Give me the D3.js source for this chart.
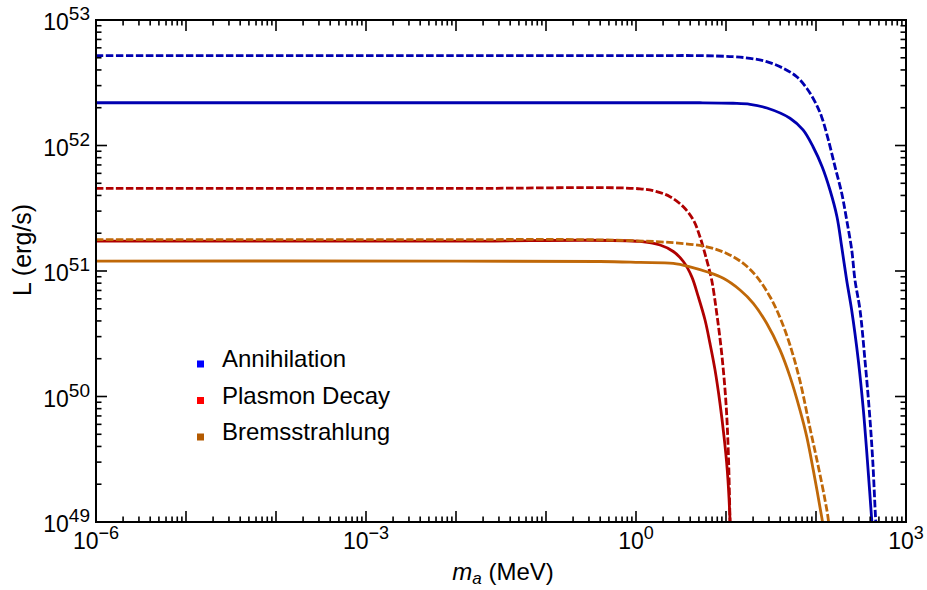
<!DOCTYPE html>
<html><head><meta charset="utf-8">
<script src="https://cdn.jsdelivr.net/npm/d3@7"></script>
<style>body{margin:0;background:#fff}text{font-family:Arial,"Liberation Sans",sans-serif}</style>
</head><body><svg id="c" width="927" height="590"></svg>
<script>
// ---- data ----
const annM   = [1e-6, 1, 5.14, 11.97, 18.5, 28.5, 51.4, 71.8, 92.7, 117, 143, 171, 193, 219, 249, 295, 336, 372, 416, 457];
const annL   = [2.19e52, 2.19e52, 2.19e52, 2.17e52, 2.13e52, 1.99e52, 1.65e52, 1.33e52, 9.77e51, 6.78e51, 4.42e51, 2.71e51, 1.56e51, 8.47e50, 4.89e50, 1.95e50, 7.80e49, 3.12e49, 1.04e49, 4e48];
const annDM  = [1e-6, 1, 5.14, 11.97, 18.5, 28.3, 43.4, 61.1, 78.9, 97.5, 115.6, 137.1, 162.6, 193.2, 219.3, 249.5, 271.0, 308.3, 349.9, 390.8, 426.6, 460.3, 501];
const annDL  = [5.20e52, 5.20e52, 5.20e52, 5.10e52, 4.95e52, 4.66e52, 4.12e52, 3.53e52, 2.86e52, 2.23e52, 1.69e52, 1.11e52, 6.78e51, 4.16e51, 2.55e51, 1.47e51, 8.47e50, 4.89e50, 1.95e50, 7.80e49, 3.12e49, 1.04e49, 4e48];
const plaM   = [1e-6, 1e-2, 1.107, 1.849, 2.594, 3.357, 4.159, 4.920, 5.848, 6.637, 7.551, 8.570, 9.506, 10.33, 11.07, 11.37];
const plaL   = [1.73e51, 1.73e51, 1.72e51, 1.61e51, 1.43e51, 1.19e51, 9.02e50, 6.24e50, 4.07e50, 2.65e50, 1.63e50, 8.83e49, 4.79e49, 2.59e49, 1.04e49, 4e48];
const plaDM  = [1e-6, 1e-2, 1.107, 1.698, 2.388, 3.357, 4.335, 5.140, 6.109, 6.934, 7.889, 8.954, 10.0, 10.62, 11.07, 11.35];
const plaDL  = [4.55e51, 4.55e51, 4.52e51, 4.29e51, 3.91e51, 3.25e51, 2.55e51, 1.87e51, 1.22e51, 8.47e50, 4.60e50, 2.21e50, 8.83e49, 3.52e49, 1.04e49, 4e48];
const breM   = [1e-6, 1e-2, 0.398, 1.107, 2.594, 3.981, 6.109, 9.333, 14.32, 20.09, 28.31, 39.81, 51.40, 66.37, 78.89, 93.33, 115.6, 125.9];
const breL   = [1.20e51, 1.20e51, 1.19e51, 1.17e51, 1.15e51, 1.08e51, 9.86e50, 8.75e50, 7.06e50, 5.53e50, 3.83e50, 2.35e50, 1.44e50, 7.80e49, 4.79e49, 2.59e49, 1.10e49, 7.6e48];
const breDM  = [1e-6, 1e-2, 0.398, 2.594, 6.109, 10.19, 15.56, 21.93, 30.83, 39.81, 51.40, 66.37, 85.70, 106.2, 125.9, 137.1, 151.4];
const breDL  = [1.78e51, 1.78e51, 1.77e51, 1.68e51, 1.56e51, 1.38e51, 1.15e51, 9.02e50, 6.24e50, 4.26e50, 2.57e50, 1.33e50, 5.61e49, 2.76e49, 1.50e49, 1.04e49, 4e48];

const legendNames  = ["Annihilation", "Plasmon Decay", "Bremsstrahlung"];
const legendColors = ["#0000ff", "#ff0000", "#b35a00"];
const lineColors   = ["#0000b0", "#b00000", "#c06808"];
const xTickExps = [-6, -3, 0, 3];
const yTickExps = [49, 50, 51, 52, 53];

// ---- layout ----
const L = 96, R = 906, T = 20, B = 522;
const svg = d3.select("#c");
const x = d3.scaleLog().domain([1e-6, 1e3]).range([L, R]);
const y = d3.scaleLog().domain([1e49, 1e53]).range([B, T]);

svg.append("defs").append("clipPath").attr("id", "clip")
  .append("rect").attr("x", L).attr("y", T).attr("width", R - L).attr("height", B - T);

const series = [
  {m: annM, l: annL, c: 0, dash: false},
  {m: annDM, l: annDL, c: 0, dash: true},
  {m: plaDM, l: plaDL, c: 1, dash: true},
  {m: plaM, l: plaL, c: 1, dash: false},
  {m: breDM, l: breDL, c: 2, dash: true},
  {m: breM, l: breL, c: 2, dash: false},
];
const line = d3.line().x(d => x(d[0])).y(d => y(d[1])).curve(d3.curveCatmullRom.alpha(0.5));
const g = svg.append("g").attr("clip-path", "url(#clip)");
series.forEach(s => {
  g.append("path").datum(s.m.map((v, i) => [v, s.l[i]]))
    .attr("d", line).attr("fill", "none")
    .attr("stroke", lineColors[s.c]).attr("stroke-width", 2.8)
    .attr("stroke-dasharray", s.dash ? "7.5,2.5" : null);
});

// ---- frame & ticks ----
svg.append("rect").attr("x", L).attr("y", T).attr("width", R - L).attr("height", B - T)
  .attr("fill", "none").attr("stroke", "#000").attr("stroke-width", 2);

const tk = svg.append("g").attr("stroke", "#000").attr("stroke-width", 1.6);
for (let e = -6; e <= 3; e++) {
  for (let k = 1; k <= 9; k++) {
    const v = k * Math.pow(10, e);
    if (v > 1e3 * 1.0001) break;
    const len = k === 1 ? 11 : 5.5;
    const px = x(v);
    if (px <= L + 0.5 || px >= R - 0.5) continue;
    tk.append("line").attr("x1", px).attr("x2", px).attr("y1", B).attr("y2", B - len);
    tk.append("line").attr("x1", px).attr("x2", px).attr("y1", T).attr("y2", T + len);
  }
}
for (let e = 49; e <= 53; e++) {
  for (let k = 1; k <= 9; k++) {
    const v = k * Math.pow(10, e);
    if (v > 1e53 * 1.0001) break;
    const len = k === 1 ? 11 : 5.5;
    const py = y(v);
    if (py <= T + 0.5 || py >= B - 0.5) continue;
    tk.append("line").attr("y1", py).attr("y2", py).attr("x1", L).attr("x2", L + len);
    tk.append("line").attr("y1", py).attr("y2", py).attr("x1", R).attr("x2", R - len);
  }
}

// ---- tick labels ----
yTickExps.forEach(e => {
  const t = svg.append("text").attr("x", 90).attr("y", y(Math.pow(10, e)) + 10)
    .attr("text-anchor", "end").attr("font-size", 23).attr("fill", "#000");
  t.append("tspan").text("10");
  t.append("tspan").attr("dy", -10).attr("font-size", 19).text(String(e));
});
xTickExps.forEach(e => {
  const t = svg.append("text").attr("x", x(Math.pow(10, e))).attr("y", 549)
    .attr("text-anchor", "middle").attr("font-size", 23).attr("fill", "#000");
  t.append("tspan").text("10");
  t.append("tspan").attr("dy", -10).attr("font-size", 18).text(String(e).replace("-", "\u2212"));
});

// ---- axis titles ----
svg.append("text").attr("transform", "translate(31,250) rotate(-90)")
  .attr("text-anchor", "middle").attr("font-size", 25).text("L (erg/s)");
const xt = svg.append("text").attr("x", 503).attr("y", 580).attr("text-anchor", "middle").attr("font-size", 24);
xt.append("tspan").attr("font-style", "italic").text("m");
xt.append("tspan").attr("font-style", "italic").attr("font-size", 17).attr("dy", 4).text("a");
xt.append("tspan").attr("dy", -4).text(" (MeV)");

// ---- legend ----
legendNames.forEach((n, i) => {
  const cy = 364 + i * 36.5;
  svg.append("rect").attr("x", 197).attr("y", cy - 3.5).attr("width", 7).attr("height", 7).attr("fill", legendColors[i]);
  svg.append("text").attr("x", 222).attr("y", cy + 3).attr("font-size", 24).text(n);
});
</script></body></html>
